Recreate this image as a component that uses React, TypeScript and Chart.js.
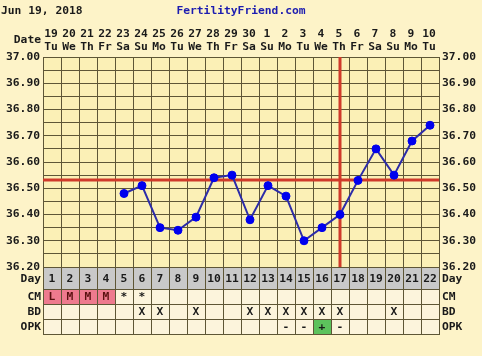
import React, { useEffect, useRef } from "react";
import { Chart, registerables } from "chart.js";

Chart.register(...registerables);

// ---------- data ----------
const CHART_DATE = "Jun 19, 2018";
const SITE_NAME = "FertilityFriend.com";
const DATE_HEADER = "Date";

const CYCLE_DAYS = ["1", "2", "3", "4", "5", "6", "7", "8", "9", "10", "11", "12", "13", "14", "15", "16", "17", "18", "19", "20", "21", "22"];
const DATE_NUMBERS = ["19", "20", "21", "22", "23", "24", "25", "26", "27", "28", "29", "30", "1", "2", "3", "4", "5", "6", "7", "8", "9", "10"];
const WEEKDAYS = ["Tu", "We", "Th", "Fr", "Sa", "Su", "Mo", "Tu", "We", "Th", "Fr", "Sa", "Su", "Mo", "Tu", "We", "Th", "Fr", "Sa", "Su", "Mo", "Tu"];

const TEMPERATURES: (number | null)[] = [
  null, null, null, null, 36.48, 36.51, 36.35, 36.34, 36.39, 36.54, 36.55,
  36.38, 36.51, 36.47, 36.30, 36.35, 36.40, 36.53, 36.65, 36.55, 36.68, 36.74,
];

const COVERLINE = 36.53;
const OVULATION_DAY = "17";

const CM_CODES = ["L", "M", "M", "M", "*", "*", "", "", "", "", "", "", "", "", "", "", "", "", "", "", "", ""];
const BD_MARKS = ["", "", "", "", "", "X", "X", "", "X", "", "", "X", "X", "X", "X", "X", "X", "", "", "X", "", ""];
const OPK_RESULTS = ["", "", "", "", "", "", "", "", "", "", "", "", "", "-", "-", "+", "-", "", "", "", "", ""];

const ROW_LABELS = ["Day", "CM", "BD", "OPK"];

const Y_MIN = 36.2;
const Y_MAX = 37.0;
const Y_STEP = 0.05;

// ---------- styles ----------
const PAGE_BG = "#fdf3c8";
const PLOT_BG = "#fbf0b6";
const CELL_BG = "#fcf4dc";
const DAY_BG = "#c9c9c9";
const PINK = "#ee7a8e";
const GREEN = "#5cc25c";
const GRID = "#5e5636";
const RED = "#d03a2a";
const LINE_BLUE = "#2c2ca8";
const POINT_BLUE = "#0000ee";
const TEXT = "#1a1a1a";
const SITE_BLUE = "#1c1cb0";
const FONT_FAMILY = "'DejaVu Sans Mono', monospace";
const FONT = "bold 11.3px " + FONT_FAMILY;

const ROW_HEIGHTS = [22, 15, 15, 15];

function fmtTick(value: number) {
  const v = Math.round(value * 100);
  if (v % 10 === 0) return (v / 100).toFixed(2);
  return "";
}

const px = (v: number) => Math.floor(v) + 0.5;

const fertilityPlugin = {
  id: "fertility",
  beforeDraw(chart: any) {
    const { ctx, chartArea: a, width, height } = chart;
    ctx.save();
    ctx.fillStyle = PAGE_BG;
    ctx.fillRect(0, 0, width, height);
    ctx.fillStyle = PLOT_BG;
    ctx.fillRect(a.left, a.top, a.right - a.left, a.bottom - a.top);
    ctx.restore();
  },
  beforeDatasetsDraw(chart: any) {
    const { ctx, chartArea: a, scales } = chart;
    const y = scales.y.getPixelForValue(COVERLINE);
    const x = scales.x.getPixelForValue(CYCLE_DAYS.indexOf(OVULATION_DAY));
    ctx.save();
    ctx.strokeStyle = RED;
    ctx.lineWidth = 3;
    ctx.beginPath();
    ctx.moveTo(a.left, Math.round(y));
    ctx.lineTo(a.right, Math.round(y));
    ctx.moveTo(Math.round(x), a.top);
    ctx.lineTo(Math.round(x), a.bottom);
    ctx.stroke();
    ctx.restore();
  },
  afterDraw(chart: any) {
    const { ctx, chartArea: a, scales } = chart;
    const xs = scales.x;
    const n = CYCLE_DAYS.length;
    const colW = (a.right - a.left) / n;
    ctx.save();
    ctx.font = FONT;
    ctx.textBaseline = "middle";

    // header
    ctx.fillStyle = TEXT;
    ctx.textAlign = "left";
    ctx.fillText(CHART_DATE, 1, 11);
    ctx.fillStyle = SITE_BLUE;
    ctx.textAlign = "center";
    ctx.fillText(SITE_NAME, (a.left + a.right) / 2, 11);

    ctx.fillStyle = TEXT;
    ctx.textAlign = "right";
    ctx.fillText(DATE_HEADER, a.left - 2, a.top - 17);
    ctx.textAlign = "center";
    for (let i = 0; i < n; i++) {
      const cx = xs.getPixelForValue(i);
      ctx.fillText(DATE_NUMBERS[i], cx - 1, a.top - 23);
      ctx.fillText(WEEKDAYS[i], cx - 1, a.top - 10);
    }

    // table rows
    const tops: number[] = [];
    let t = a.bottom;
    for (const h of ROW_HEIGHTS) {
      tops.push(t);
      t += h;
    }
    const tableBottom = t;
    const w = a.right - a.left;
    ctx.fillStyle = DAY_BG;
    ctx.fillRect(a.left, tops[0], w, ROW_HEIGHTS[0]);
    ctx.fillStyle = CELL_BG;
    ctx.fillRect(a.left, tops[1], w, tableBottom - tops[1]);

    for (let i = 0; i < n; i++) {
      const left = xs.getPixelForValue(i) - colW / 2;
      const cm = CM_CODES[i];
      if (cm && cm !== "*") {
        ctx.fillStyle = PINK;
        ctx.fillRect(left, tops[1], colW, ROW_HEIGHTS[1]);
      }
      if (OPK_RESULTS[i] === "+") {
        ctx.fillStyle = GREEN;
        ctx.fillRect(left, tops[3], colW, ROW_HEIGHTS[3]);
      }
    }

    // table grid
    ctx.strokeStyle = GRID;
    ctx.lineWidth = 1;
    ctx.beginPath();
    for (const yy of [...tops, tableBottom]) {
      ctx.moveTo(a.left, px(yy));
      ctx.lineTo(a.right + 1, px(yy));
    }
    for (let i = 0; i <= n; i++) {
      const xx = a.left + i * colW;
      ctx.moveTo(px(xx), a.bottom);
      ctx.lineTo(px(xx), tableBottom);
    }
    ctx.stroke();

    // table text
    ctx.fillStyle = TEXT;
    const centers = tops.map((tp, k) => tp + ROW_HEIGHTS[k] / 2 + 1);
    ctx.textAlign = "center";
    for (let i = 0; i < n; i++) {
      const cx = xs.getPixelForValue(i);
      ctx.fillStyle = TEXT;
      ctx.fillText(CYCLE_DAYS[i], cx, centers[0]);
      if (CM_CODES[i]) {
        ctx.fillStyle = CM_CODES[i] === "*" ? TEXT : "#5a1010";
        ctx.fillText(CM_CODES[i], cx, centers[1]);
      }
      ctx.fillStyle = TEXT;
      if (BD_MARKS[i]) ctx.fillText(BD_MARKS[i], cx, centers[2]);
      if (OPK_RESULTS[i]) ctx.fillText(OPK_RESULTS[i], cx, centers[3]);
    }

    // row labels on both sides
    ROW_LABELS.forEach((lab, k) => {
      ctx.textAlign = "right";
      ctx.fillText(lab, a.left - 2, centers[k]);
      ctx.textAlign = "left";
      ctx.fillText(lab, a.right + 3, centers[k]);
    });
    ctx.restore();
  },
};

export default function App() {
  const ref = useRef<HTMLCanvasElement | null>(null);
  useEffect(() => {
    if (!ref.current) return;
    const tickFont = { family: FONT_FAMILY, size: 11.3, weight: "bold" as const };
    const chart = new Chart(ref.current, {
      type: "line",
      data: {
        labels: CYCLE_DAYS,
        datasets: [
          {
            data: TEMPERATURES,
            borderColor: LINE_BLUE,
            borderWidth: 2,
            pointBackgroundColor: POINT_BLUE,
            pointBorderColor: POINT_BLUE,
            pointRadius: 4,
            pointBorderWidth: 1,
            tension: 0,
            spanGaps: false,
            clip: false as any,
          },
        ],
      },
      plugins: [fertilityPlugin],
      options: {
        responsive: false,
        animation: false,
        events: [],
        layout: { padding: { top: 57, bottom: 89, left: 0, right: 0 } },
        plugins: { legend: { display: false }, tooltip: { enabled: false }, title: { display: false } },
        scales: {
          x: {
            type: "category",
            offset: true,
            grid: { offset: true, color: GRID, drawTicks: false, lineWidth: 1 },
            border: { display: true, color: GRID },
            ticks: { display: false },
            afterFit: (s: any) => {
              s.height = 0;
            },
          },
          y: {
            type: "linear",
            position: "left",
            min: Y_MIN,
            max: Y_MAX,
            grid: { color: GRID, drawTicks: false, lineWidth: 1 },
            border: { display: true, color: GRID },
            ticks: {
              stepSize: Y_STEP,
              autoSkip: false,
              padding: 3,
              color: TEXT,
              font: tickFont,
              callback: (v: any) => fmtTick(Number(v)),
            },
            afterFit: (s: any) => {
              s.width = 43;
            },
          },
          y2: {
            type: "linear",
            position: "right",
            min: Y_MIN,
            max: Y_MAX,
            grid: { display: false, drawTicks: false },
            border: { display: false },
            ticks: {
              stepSize: Y_STEP,
              autoSkip: false,
              padding: 3,
              color: TEXT,
              font: tickFont,
              callback: (v: any) => fmtTick(Number(v)),
            },
            afterFit: (s: any) => {
              s.width = 43;
            },
          },
        },
      },
    });
    return () => chart.destroy();
  }, []);
  return (
    <div style={{ position: "fixed", left: 0, top: 0, width: 482, height: 356, background: PAGE_BG }}>
      <canvas ref={ref} width={482} height={356} style={{ width: 482, height: 356, display: "block" }} />
    </div>
  );
}
